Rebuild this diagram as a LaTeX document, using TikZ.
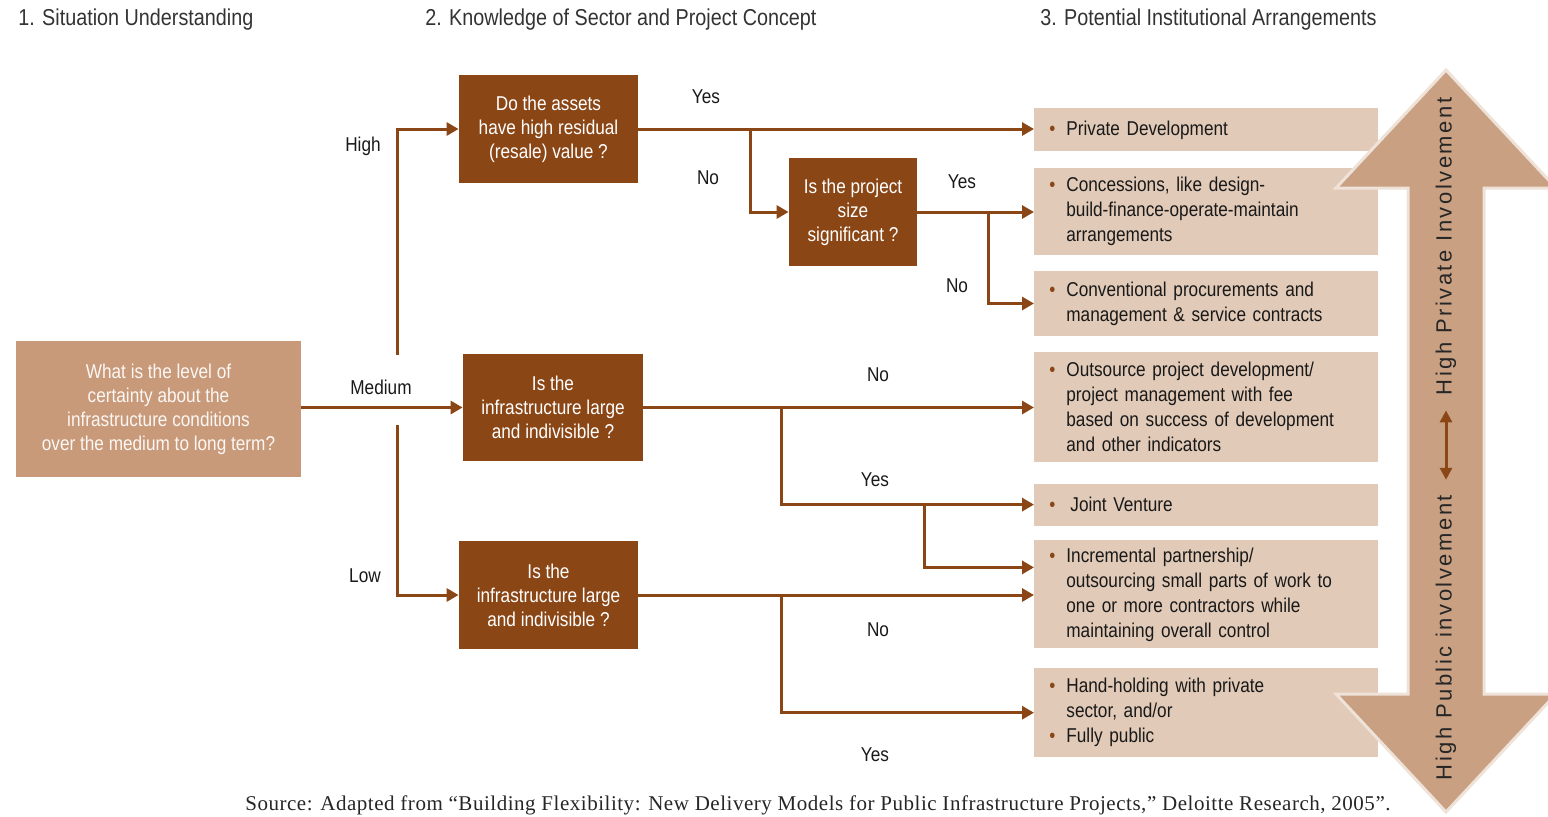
\documentclass[tikz,border=0pt]{standalone}
\usepackage{fontspec}
\setmainfont[FakeStretch=0.86]{Liberation Sans}
\newfontfamily\spacedfont[LetterSpace=11.5]{Liberation Sans}
\newfontfamily\srcfont[LetterSpace=2.5]{Liberation Serif}
\usetikzlibrary{positioning,arrows.meta,calc}
\definecolor{DarkBrn}{HTML}{8B4616}
\definecolor{SitBrn}{HTML}{C89A7A}
\definecolor{OptBeige}{HTML}{E1CAB7}
\definecolor{ArrBrn}{HTML}{C9A082}
\definecolor{ArrEdge}{HTML}{EFE2D8}
\newcommand\bul{\makebox[8.5pt][l]{\textcolor{DarkBrn}{\textbullet}}}
\newcommand\ind{\hspace*{8.5pt}}

\begin{document}
\begin{tikzpicture}[x=0.5pt,y=-0.5pt,
        ask/.style={fill=DarkBrn, text=white, font=\fontsize{10}{12}\selectfont,
                    align=center, inner sep=2pt},
        qbox/.style={fill=SitBrn, text=white!92!SitBrn, font=\fontsize{10}{12}\selectfont,
                    align=center, inner sep=2pt},
        opt/.style={fill=OptBeige, text=black!90, font=\fontsize{10}{12.5}\selectfont,
                    text width=157pt, inner xsep=7.5pt, inner ysep=2pt, align=left},
        ar/.style={-{Triangle[length=6pt,width=6.5pt]}, line width=1.5pt, draw=DarkBrn},
        dbl/.style={{Triangle[length=6pt,width=6pt]}-{Triangle[length=6pt,width=6pt]},
                    line width=1.5pt, draw=DarkBrn},
        lbl/.style={font=\fontsize{10}{12}\selectfont, text=black!90},
        head/.style={font=\fontsize{11.5}{14}\selectfont, text=black!80, anchor=west, inner sep=0pt},
        side/.style={rotate=90, font=\spacedfont\fontsize{11}{13}\selectfont, text=black!85},
      ]
      \useasboundingbox (0,0) rectangle (1548,816);
      \node[head] (h1) at (18,20) {1. Situation Understanding};
      \node[head] (h2) at (425,20) {2. Knowledge of Sector and Project Concept};
      \node[head] (h3) at (1040,20) {3. Potential Institutional Arrangements};

      \node[qbox, minimum width=142.5pt, minimum height=68pt] (level) at (158.5,409)
        {What is the level of\\certainty about the\\infrastructure conditions\\over the medium to long term?};
      \node[ask, minimum width=89.5pt, minimum height=54pt] (asset) at (548.5,129)
        {Do the assets\\have high residual\\(resale) value ?};
      \node[ask, minimum width=64pt, minimum height=54pt] (proj) at (853,212)
        {Is the project\\size\\significant ?};
      \node[ask, minimum width=90pt, minimum height=53.5pt] (med) at (553,407.5)
        {Is the\\infrastructure large\\and indivisible ?};
      \node[ask, minimum width=89.5pt, minimum height=54pt] (low) at (548.5,595)
        {Is the\\infrastructure large\\and indivisible ?};

      \node[opt, minimum height=21.5pt, anchor=north west] (priv) at (1034,108)
        {\bul Private Development};
      \node[opt, minimum height=43.5pt, below=8pt of priv] (conc)
        {\bul Concessions, like design-\\\ind build-finance-operate-maintain\\\ind arrangements};
      \node[opt, minimum height=32.5pt, below=7.5pt of conc] (conv)
        {\bul Conventional procurements and\\\ind management \& service contracts};
      \node[opt, minimum height=55pt, below=7.5pt of conv] (outs)
        {\bul Outsource project development/\\\ind project management with fee\\\ind based on success of development\\\ind and other indicators};
      \node[opt, minimum height=21pt, below=10.5pt of outs] (joint)
        {\bul\hspace{2pt}Joint Venture};
      \node[opt, minimum height=54pt, below=7pt of joint] (incr)
        {\bul Incremental partnership/\\\ind outsourcing small parts of work to\\\ind one or more contractors while\\\ind maintaining overall control};
      \node[opt, minimum height=44.5pt, below=9.5pt of incr] (hand)
        {\bul Hand-holding with private\\\ind sector, and/or\\\bul Fully public};

      \coordinate (vt) at (397,355);
      \coordinate (vb) at (397,425);
      \coordinate (bAsset) at (750,129);
      \coordinate (bProj) at (988,212);
      \coordinate (bMed) at (781,407.5);
      \coordinate (bJoint) at (924,505);
      \coordinate (bLow) at (781,595);

      \draw[ar] (level.east |- med.west) -- (med.west);
      \draw[ar] (vt) |- (asset.west);
      \draw[ar] (vb) |- (low.west);
      \draw[ar] (asset.east) -- (asset.east -| priv.west);
      \draw[ar] (bAsset) |- (proj.west);
      \draw[ar] (proj.east) -- (proj.east -| conc.west);
      \draw[ar] (bProj) |- (conv.west);
      \draw[ar] (med.east) -- (med.east -| outs.west);
      \draw[ar] (bMed) |- (joint.west);
      \draw[ar] (bJoint) |- ([yshift=13.5pt]incr.west);
      \draw[ar] (low.east) -- (low.east -| incr.west);
      \draw[ar] (bLow) |- (hand.west);

      \node[lbl] (lHigh) at (363,146) {High};
      \node[lbl] (lMed) at (381,387) {Medium};
      \node[lbl] (lLow) at (365,576) {Low};
      \node[lbl] (yAsset) at (706,97) {Yes};
      \node[lbl] (nAsset) at (708,178) {No};
      \node[lbl] (yProj) at (962,182) {Yes};
      \node[lbl] (nProj) at (957,286) {No};
      \node[lbl] (nMed) at (878,375) {No};
      \node[lbl] (yMed) at (875,480) {Yes};
      \node[lbl] (nLow) at (878,630) {No};
      \node[lbl] (yLow) at (875,755) {Yes};

      \filldraw[fill=ArrBrn, draw=ArrEdge, line width=1.5pt, line join=miter]
        (1446,70) -- (1556,188) -- (1484,188) -- (1484,694) -- (1556,694) -- (1446,812)
        -- (1336,694) -- (1408,694) -- (1408,188) -- (1336,188) -- cycle;
      \node[side] (privSide) at (1446,246.5) {High Private Involvement};
      \node[side] (pubSide) at (1446,637.5) {High Public involvement};
      \draw[dbl, shorten <=4pt, shorten >=4pt] (pubSide.east) -- (privSide.west);

      \node[anchor=base west, inner sep=0pt, text=black!85, font=\srcfont\fontsize{10.5}{13}\selectfont] (src) at (245,810)
        {Source: Adapted from “Building Flexibility: New Delivery Models for Public Infrastructure Projects,” Deloitte Research, 2005”.};
    \end{tikzpicture}
\end{document}
